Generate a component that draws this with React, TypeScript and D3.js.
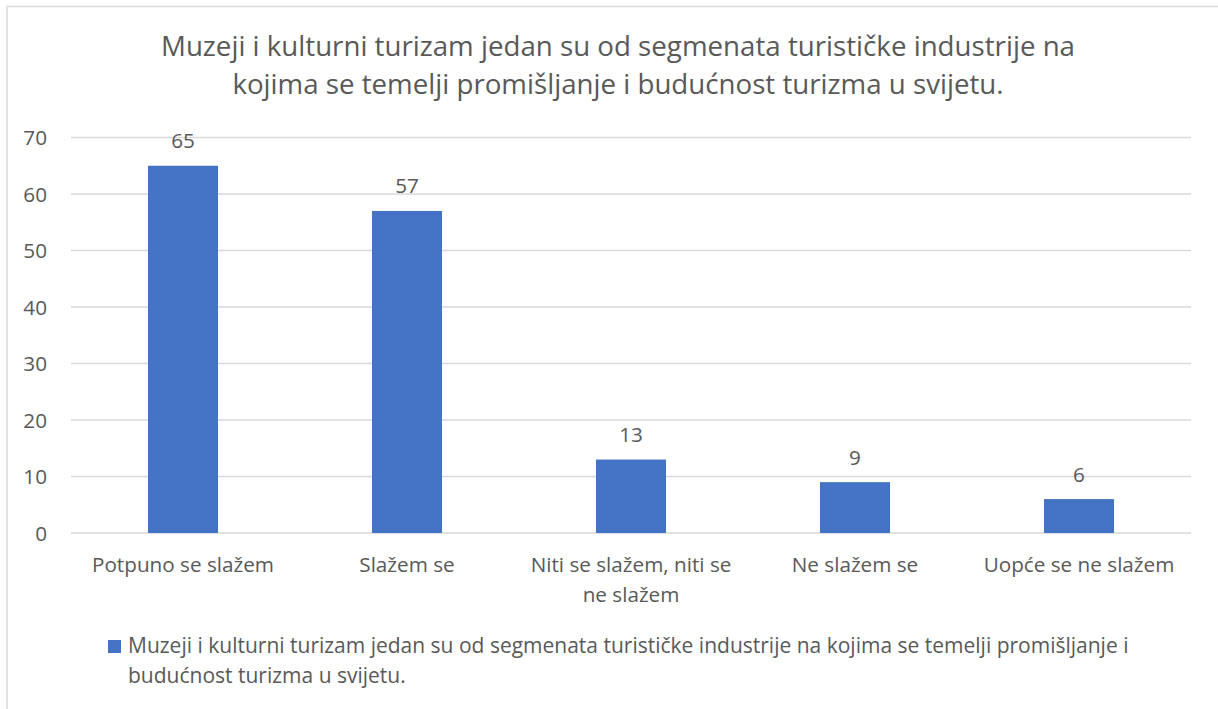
import React from "react";
import * as d3 from "d3";

const titleLines = [
  "Muzeji i kulturni turizam jedan su od segmenata turističke industrije na",
  "kojima se temelji promišljanje i budućnost turizma u svijetu.",
];
const categories = [
  ["Potpuno se slažem"],
  ["Slažem se"],
  ["Niti se slažem, niti se", "ne slažem"],
  ["Ne slažem se"],
  ["Uopće se ne slažem"],
];
const values = [65, 57, 13, 9, 6];
const yTicks = [0, 10, 20, 30, 40, 50, 60, 70];
const legendLines = [
  "Muzeji i kulturni turizam jedan su od segmenata turističke industrije na kojima se temelji promišljanje i",
  "budućnost turizma u svijetu.",
];

const W = 1218;
const H = 709;
const FONT = "'Open Sans', sans-serif";
const TXT = "#595959";
const GRID = "#d9d9d9";
const BAR = "#4472c4";

export default function App() {
  const x = d3
    .scaleBand<number>()
    .domain(d3.range(categories.length))
    .range([71, 1191])
    .paddingInner(0.6875)
    .paddingOuter(0.34375);
  const band = d3.scaleBand<number>().domain(d3.range(categories.length)).range([71, 1191]);
  const y = d3.scaleLinear().domain([0, 70]).range([533, 137.5]);

  return (
    <svg
      width={W}
      height={H}
      style={{ position: "absolute", left: 0, top: 0, background: "#fff" }}
      fontFamily={FONT}
    >
      <rect x={7} y={6.5} width={1240} height={720} fill="#fff" stroke={GRID} strokeWidth={1.5} />
      {titleLines.map((t, i) => (
        <text key={i} x={618} y={56 + i * 37.5} textAnchor="middle" fontSize={27.7} fill={TXT}>
          {t}
        </text>
      ))}
      {yTicks.map((t) => (
        <g key={t}>
          <line x1={71} x2={1191} y1={y(t)} y2={y(t)} stroke={GRID} strokeWidth={1.3} />
          <text x={47} y={y(t) + 7.5} textAnchor="end" fontSize={20.7} fill={TXT}>
            {t}
          </text>
        </g>
      ))}
      {values.map((v, i) => (
        <g key={i}>
          <rect x={x(i)} y={y(v)} width={x.bandwidth()} height={y(0) - y(v)} fill={BAR} />
          <text
            x={(x(i) as number) + x.bandwidth() / 2}
            y={y(v) - 17.5}
            textAnchor="middle"
            fontSize={20.7}
            fill={TXT}
          >
            {v}
          </text>
        </g>
      ))}
      {categories.map((lines, i) => (
        <text
          key={i}
          x={(band(i) as number) + band.bandwidth() / 2}
          textAnchor="middle"
          fontSize={20.7}
          fill={TXT}
        >
          {lines.map((l, j) => (
            <tspan key={j} x={(band(i) as number) + band.bandwidth() / 2} y={572 + j * 29.5}>
              {l}
            </tspan>
          ))}
        </text>
      ))}
      <rect x={108} y={640} width={13} height={13} fill={BAR} />
      {legendLines.map((l, i) => (
        <text key={i} x={128} y={653 + i * 30} fontSize={21} fill={TXT}>
          {l}
        </text>
      ))}
    </svg>
  );
}
